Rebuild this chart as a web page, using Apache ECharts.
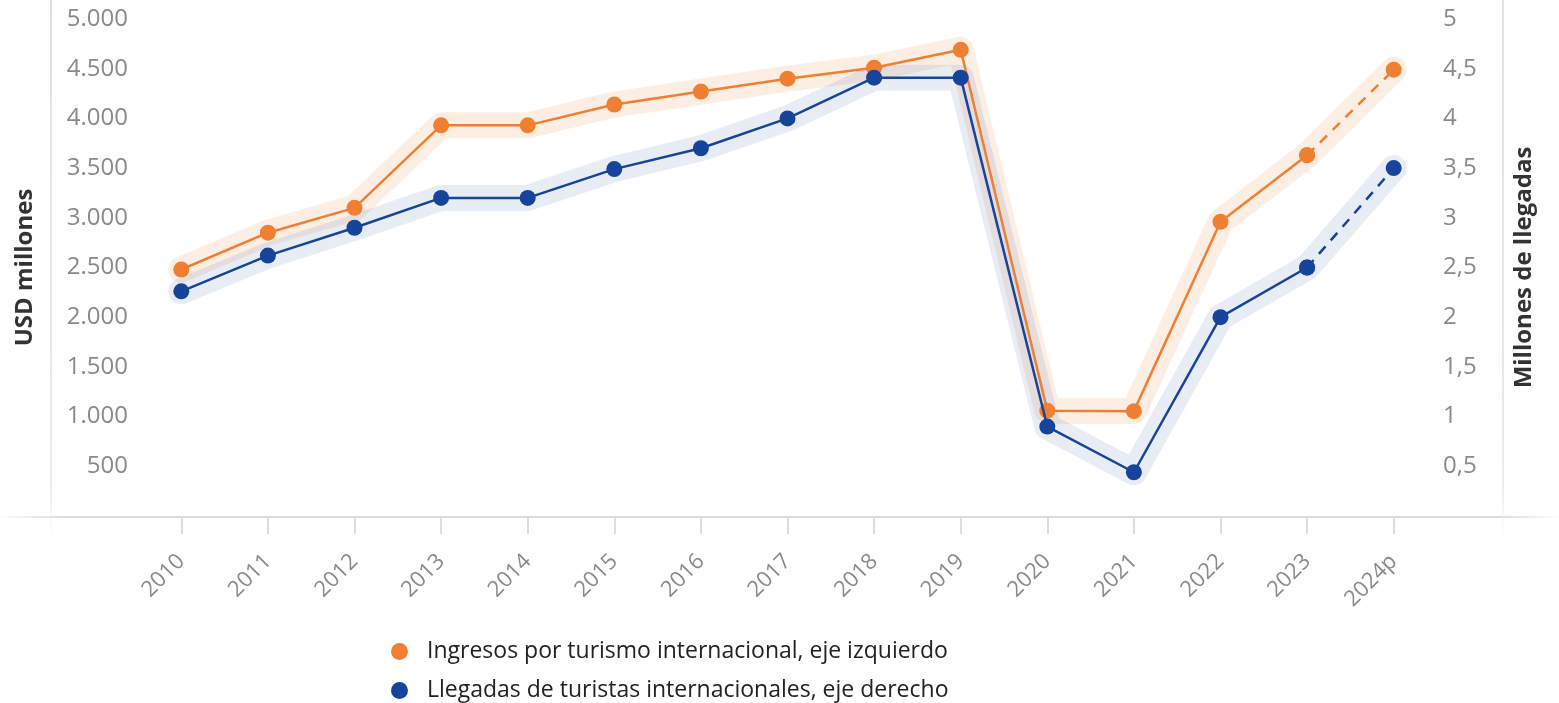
<!DOCTYPE html>
<html>
<head>
<meta charset="utf-8">
<script src="https://cdn.jsdelivr.net/npm/echarts@6/dist/echarts.min.js"></script>
<style>
  html, body { margin: 0; padding: 0; background: #fff; }
  #chart { width: 1559px; height: 703px; }
</style>
</head>
<body>
<div id="chart"></div>
<script>
// categories and values
const years = ['2010', '2011', '2012', '2013', '2014', '2015', '2016', '2017', '2018', '2019', '2020', '2021', '2022', '2023', '2024p'];
const ingresos = [2480, 2850, 3100, 3930, 3930, 4140, 4270, 4400, 4510, 4690, 1060, 1055, 2960, 3630, 4490];
const llegadas = [2.26, 2.62, 2.90, 3.20, 3.20, 3.49, 3.70, 4.00, 4.41, 4.41, 0.90, 0.44, 2.00, 2.50, 3.50];
const nameIngresos = 'Ingresos por turismo internacional, eje izquierdo';
const nameLlegadas = 'Llegadas de turistas internacionales, eje derecho';

const ORANGE = '#f07f32';
const BLUE = '#15449a';
const FONT = 'Open Sans';

// solid part up to 2023, dashed part 2023 -> 2024p
function solidPart(arr) {
    return arr.map((v, i) => i < arr.length - 1 ? v : null);
}
function dashedPart(arr) {
    return arr.map((v, i) => i >= arr.length - 2 ? v : null);
}

function fmtLeft(v) {
    return v.toLocaleString('de-DE');
}
function fmtRight(v) {
    return String(v).replace('.', ',');
}

function legendItem(name, top) {
    return {
        orient: 'vertical',
        left: 386,
        top: top,
        icon: 'circle',
        itemWidth: 17,
        itemHeight: 17,
        itemGap: 0,
        textStyle: { fontSize: 23, color: '#222', fontFamily: FONT, padding: [0, 0, 0, 14] },
        data: [name]
    };
}

function frameLine(x1, y1, x2, y2, horizontal) {
    const stops = horizontal ? [
        { offset: 0, color: 'rgba(220,220,220,0)' },
        { offset: 0.04, color: 'rgba(220,220,220,1)' },
        { offset: 0.96, color: 'rgba(220,220,220,1)' },
        { offset: 1, color: 'rgba(220,220,220,0)' }
    ] : [
        { offset: 0, color: 'rgba(225,225,225,1)' },
        { offset: 0.9, color: 'rgba(235,235,235,1)' },
        { offset: 1, color: 'rgba(235,235,235,0)' }
    ];
    return {
        type: 'line', silent: true, z: 0,
        shape: { x1: x1, y1: y1, x2: x2, y2: y2 },
        style: {
            lineWidth: 2,
            stroke: new echarts.graphic.LinearGradient(0, 0, horizontal ? 1 : 0, horizontal ? 0 : 1, stops)
        }
    };
}

const chart = echarts.init(document.getElementById('chart'));

const option = {
    animation: false,
    textStyle: { fontFamily: FONT },
    grid: { left: 138, right: 122, top: 19, bottom: 187 },
    legend: [
        legendItem(nameIngresos, 635),
        legendItem(nameLlegadas, 674)
    ],
    xAxis: {
        type: 'category',
        data: years,
        axisLine: { show: false },
        axisTick: { show: true, alignWithLabel: true, length: 18, lineStyle: { color: '#dddddd', width: 2 } },
        axisLabel: { rotate: 45, color: '#8a8a8a', fontSize: 22, margin: 42, fontFamily: FONT }
    },
    yAxis: [
        {
            type: 'value',
            min: 0, max: 5000, interval: 500,
            name: 'USD millones',
            nameLocation: 'middle',
            nameGap: 101,
            nameTextStyle: { fontSize: 24, fontWeight: 'bold', color: '#333', fontFamily: FONT },
            axisLine: { show: false },
            axisTick: { show: false },
            splitLine: { show: false },
            axisLabel: {
                color: '#8a8a8a', fontSize: 24, margin: 10, fontFamily: FONT,
                formatter: v => v === 0 ? '' : fmtLeft(v)
            }
        },
        {
            type: 'value',
            min: 0, max: 5, interval: 0.5,
            name: 'Millones de llegadas',
            nameLocation: 'middle',
            nameGap: 75,
            nameRotate: 90,
            nameTextStyle: { fontSize: 24, fontWeight: 'bold', color: '#333', fontFamily: FONT },
            axisLine: { show: false },
            axisTick: { show: false },
            splitLine: { show: false },
            axisLabel: {
                color: '#8a8a8a', fontSize: 24, margin: 6, fontFamily: FONT,
                formatter: v => v === 0 ? '' : fmtRight(v)
            }
        }
    ],
    graphic: [
        // faint frame lines around the plot
        frameLine(0, 517, 1559, 517, true),
        frameLine(51, 0, 51, 535, false),
        frameLine(1503, 0, 1503, 535, false)
    ],
    series: [
        // wide soft halos behind the lines
        {
            name: 'haloIngresos', type: 'line', yAxisIndex: 0, data: ingresos,
            symbol: 'none', silent: true, z: 1,
            lineStyle: { width: 26, color: 'rgba(240,127,50,0.13)', cap: 'round', join: 'round' }
        },
        {
            name: 'haloLlegadas', type: 'line', yAxisIndex: 1, data: llegadas,
            symbol: 'none', silent: true, z: 1,
            lineStyle: { width: 26, color: 'rgba(21,68,154,0.1)', cap: 'round', join: 'round' }
        },
        {
            name: nameIngresos, type: 'line', yAxisIndex: 0, data: solidPart(ingresos),
            symbol: 'circle', symbolSize: 16, z: 3,
            itemStyle: { color: ORANGE },
            lineStyle: { width: 2.5, color: ORANGE }
        },
        {
            name: nameIngresos, type: 'line', yAxisIndex: 0, data: dashedPart(ingresos),
            symbol: 'circle', symbolSize: 16, z: 3,
            itemStyle: { color: ORANGE },
            lineStyle: { width: 2.5, color: ORANGE, type: [10, 8] }
        },
        {
            name: nameLlegadas, type: 'line', yAxisIndex: 1, data: solidPart(llegadas),
            symbol: 'circle', symbolSize: 16, z: 4,
            itemStyle: { color: BLUE },
            lineStyle: { width: 2.5, color: BLUE }
        },
        {
            name: nameLlegadas, type: 'line', yAxisIndex: 1, data: dashedPart(llegadas),
            symbol: 'circle', symbolSize: 16, z: 4,
            itemStyle: { color: BLUE },
            lineStyle: { width: 2.5, color: BLUE, type: [10, 8] }
        }
    ]
};

chart.setOption(option);
</script>
</body>
</html>
